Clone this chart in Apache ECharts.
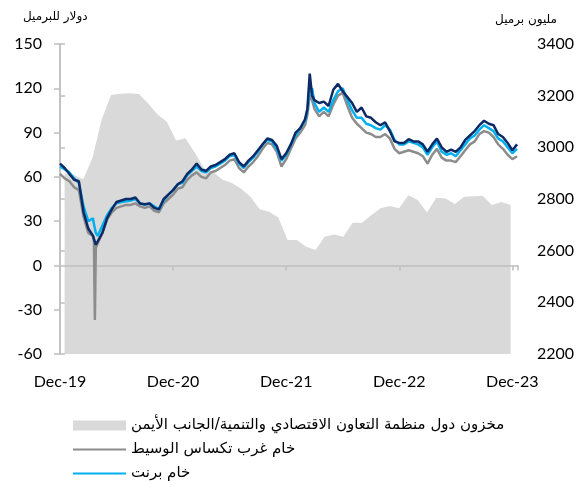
<!DOCTYPE html>
<html lang="ar">
<head>
    <meta charset="UTF-8">
    <script src="https://cdn.jsdelivr.net/npm/echarts@6/dist/echarts.min.js"></script>
    <style>
        html, body { margin: 0; padding: 0; background: #fff; }
        #pic { width: 584px; height: 487px; }
    </style>
    <title>مخزون النفط والأسعار</title>
</head>
<body>
<div id="pic"></div>
<script type="text/javascript">
    // x: months since start of 2020 (Dec-19 tick = 0)
    var tickLabels = ['Dec-19', 'Dec-20', 'Dec-21', 'Dec-22', 'Dec-23'];

    var months = [
        0, 0.5, 1, 1.5, 2, 2.5, 3, 3.5, 3.6, 3.7, 3.8, 4, 4.5, 5, 5.5, 6, 6.5, 7, 7.5, 8, 8.5, 9, 9.5, 10, 10.5, 11, 11.5,
        12, 12.5, 13, 13.5, 14, 14.5, 15, 15.5, 16, 16.5, 17, 17.5, 18, 18.5, 19, 19.5, 20, 20.5, 21, 21.5, 22, 22.5, 23, 23.5,
        24, 24.5, 25, 25.5, 26, 26.25, 26.5, 26.75, 27, 27.5, 28, 28.5, 29, 29.5, 30, 30.5, 31, 31.5, 32, 32.5, 33, 33.5, 34, 34.5, 35, 35.5,
        36, 36.5, 37, 37.5, 38, 38.5, 39, 39.5, 40, 40.5, 41, 41.5, 42, 42.5, 43, 43.5, 44, 44.5, 45, 45.5, 46, 46.5, 47, 47.5, 48, 48.5
    ];

    // dark blue line (no legend entry visible)
    var navy = [
        69, 66, 62, 58, 57, 36, 25, 20, 18, 16, 14, 14, 22, 32, 38, 43, 44, 45, 45, 46, 42, 41.5, 42, 39, 38, 45, 48,
        51, 55, 57, 62, 65, 69, 65, 64, 67, 68, 70, 72, 75, 76, 70, 67, 71, 74, 78, 82, 86, 85, 81, 72,
        76, 82, 90, 93, 99, 106, 130, 115, 112, 110, 111, 108, 119, 123, 118, 114, 110, 104, 107, 101, 100, 97, 95, 97, 91, 84,
        83, 83, 85.5, 84, 84, 82, 77, 82, 86, 80, 77, 78.5, 77, 80, 85, 88, 91, 95, 98, 96, 95, 89, 87, 83, 78, 82
    ];

    // خام برنت
    var brent = [
        67, 65, 63, 59, 56, 40, 30, 32, 28, 25, 22, 20, 27, 34, 39, 42, 43, 43.5, 44, 45, 42, 41, 42, 40, 38, 44, 48,
        51, 55, 56, 61, 64, 67, 64, 63, 66, 67, 69, 71, 74, 75, 69, 66, 70, 73, 77, 82, 85, 84, 79, 71,
        75, 82, 88, 93, 98, 105, 118, 120, 110, 104, 107, 104, 112, 118, 120, 112, 105, 100, 100, 96, 95, 93, 92, 95, 92, 85,
        82, 82, 84, 83, 82, 80, 75, 80, 84, 77, 75, 76, 74, 78, 82, 86, 88, 92, 95, 93, 91, 86, 84, 80, 76, 79
    ];

    // خام غرب تكساس الوسيط
    var wti = [
        62, 59, 57, 53, 51, 33, 22, 20, 16, -37, 12, 13, 22, 31, 36, 39, 40, 41, 41, 42, 40, 39, 40, 37, 36, 42, 45,
        48, 52, 53, 58, 61, 63, 60, 59, 63, 64, 66, 68, 71, 72, 66, 63, 67, 70, 74, 79, 83, 82, 77, 67,
        72, 79, 86, 90, 95, 102, 115, 112, 106, 101, 104, 101, 109, 115, 117, 108, 100, 96, 93, 90, 89, 87, 87, 89, 86, 79,
        76, 77, 78, 77, 76, 74, 69, 75, 79, 73, 71, 71, 70, 74, 78, 82, 84, 89, 91, 90, 87, 82, 79, 75, 72, 74
    ];

    // مخزون دول منظمة التعاون الاقتصادي والتنمية (monthly, right axis)
    var stockMonths = [];
    for (var i = 0; i <= 48; i++) stockMonths.push(i);
    var stocks = [
        2900, 2893, 2876, 2960, 3110, 3203, 3207, 3209, 3206, 3170, 3127, 3099, 3026,
        3035, 2980, 2919, 2905, 2875, 2862, 2840, 2809, 2760, 2751, 2728,
        2641, 2641, 2615, 2603, 2654, 2663, 2654, 2708, 2708, 2737, 2764, 2773,
        2764, 2815, 2796, 2748, 2805, 2802, 2781, 2809, 2811, 2813, 2777, 2788, 2777
    ];

    var names = {
        stock: 'مخزون دول منظمة التعاون الاقتصادي والتنمية/الجانب الأيمن',
        wti: 'خام غرب تكساس الوسيط',
        brent: 'خام برنت',
        navy: 'خام دبي'
    };

    function pairs(xs, ys) {
        var out = [];
        for (var i = 0; i < ys.length; i++) out.push([xs[i], ys[i]]);
        return out;
    }

    var numFont = 'Lato';
    var arFont = 'DejaVu Sans';
    var axisGray = '#bfbfbf';

    var chartDom = document.getElementById('pic');
    var myChart = echarts.init(chartDom);
    var option;

    option = {
        animation: false,
        title: [
            {text: 'دولار للبرميل', left: 18, top: 6,
                textStyle: {fontFamily: arFont, fontSize: 12, fontWeight: 'normal', color: '#000'}},
            {text: 'مليون برميل', right: 22, top: 9,
                textStyle: {fontFamily: arFont, fontSize: 12, fontWeight: 'normal', color: '#000'}}
        ],
        grid: {left: 60, right: 66, top: 44, bottom: 133, containLabel: false},
        legend: {
            orient: 'vertical',
            left: 72,
            top: 418,
            height: 68,
            padding: 0,
            itemWidth: 53,
            itemHeight: 10,
            itemGap: 9,
            textStyle: {fontFamily: arFont, fontSize: 15, color: '#000'},
            data: [
                {name: names.stock, icon: 'rect'},
                {name: names.wti, itemStyle: {opacity: 0}},
                {name: names.brent, itemStyle: {opacity: 0}}
            ]
        },
        xAxis: [
            {   // labels at the bottom
                type: 'value', min: 0, max: 48.6, interval: 12, position: 'bottom',
                axisLine: {show: false, onZero: false},
                axisTick: {show: false},
                splitLine: {show: false},
                axisLabel: {
                    margin: 20, fontFamily: numFont, fontSize: 16, color: '#000',
                    showMaxLabel: false,
                    formatter: function (v) {
                        return v % 12 === 0 ? tickLabels[v / 12] : '';
                    }
                }
            },
            {   // zero line with ticks
                type: 'value', min: 0, max: 48.6, interval: 12, position: 'bottom', z: 3,
                axisLine: {show: true, onZero: true, onZeroAxisIndex: 0, lineStyle: {color: axisGray, width: 1.5}},
                axisTick: {show: true, length: 5, lineStyle: {color: axisGray, width: 1.5}},
                axisLabel: {show: false},
                splitLine: {show: false}
            },
            {   // monthly stock points
                type: 'value', min: -0.5, max: 48.8, show: false,
                axisLine: {onZero: false},
                splitLine: {show: false}
            }
        ],
        yAxis: [
            {
                type: 'value', min: -60, max: 150, interval: 30, position: 'left',
                axisLine: {show: true, lineStyle: {color: axisGray, width: 1.5}},
                axisTick: {show: true, length: 6, lineStyle: {color: axisGray, width: 1.5}},
                splitLine: {show: false},
                axisLabel: {margin: 18, fontFamily: numFont, fontSize: 16, color: '#000'}
            },
            {
                type: 'value', min: 2200, max: 3400, interval: 200, position: 'right',
                axisLine: {show: true, lineStyle: {color: axisGray, width: 1.5}},
                axisTick: {show: true, length: 5, lineStyle: {color: axisGray, width: 1.5}},
                splitLine: {show: false},
                axisLabel: {
                    margin: 19, fontFamily: numFont, fontSize: 16, color: '#000',
                    formatter: function (v) { return String(v); }
                }
            }
        ],
        series: [
            {
                name: names.stock, type: 'line', xAxisIndex: 2, yAxisIndex: 1,
                data: pairs(stockMonths, stocks),
                symbol: 'none', z: 1,
                itemStyle: {color: '#d9d9d9'},
                lineStyle: {width: 0, color: '#d9d9d9'},
                areaStyle: {color: '#d9d9d9', opacity: 1, origin: 'start'}
            },
            {
                name: names.wti, type: 'line', xAxisIndex: 0, yAxisIndex: 0,
                data: pairs(months, wti),
                symbol: 'none', z: 4,
                itemStyle: {color: '#8c8c8c'},
                lineStyle: {width: 2.5, color: '#8c8c8c'}
            },
            {
                name: names.brent, type: 'line', xAxisIndex: 0, yAxisIndex: 0,
                data: pairs(months, brent),
                symbol: 'none', z: 5,
                itemStyle: {color: '#00b0f0'},
                lineStyle: {width: 2.5, color: '#00b0f0'}
            },
            {
                name: names.navy, type: 'line', xAxisIndex: 0, yAxisIndex: 0,
                data: pairs(months, navy),
                symbol: 'none', z: 6,
                itemStyle: {color: '#0b2a66'},
                lineStyle: {width: 2.5, color: '#0b2a66'}
            }
        ]
    };

    option && myChart.setOption(option);
</script>
</body>
</html>
